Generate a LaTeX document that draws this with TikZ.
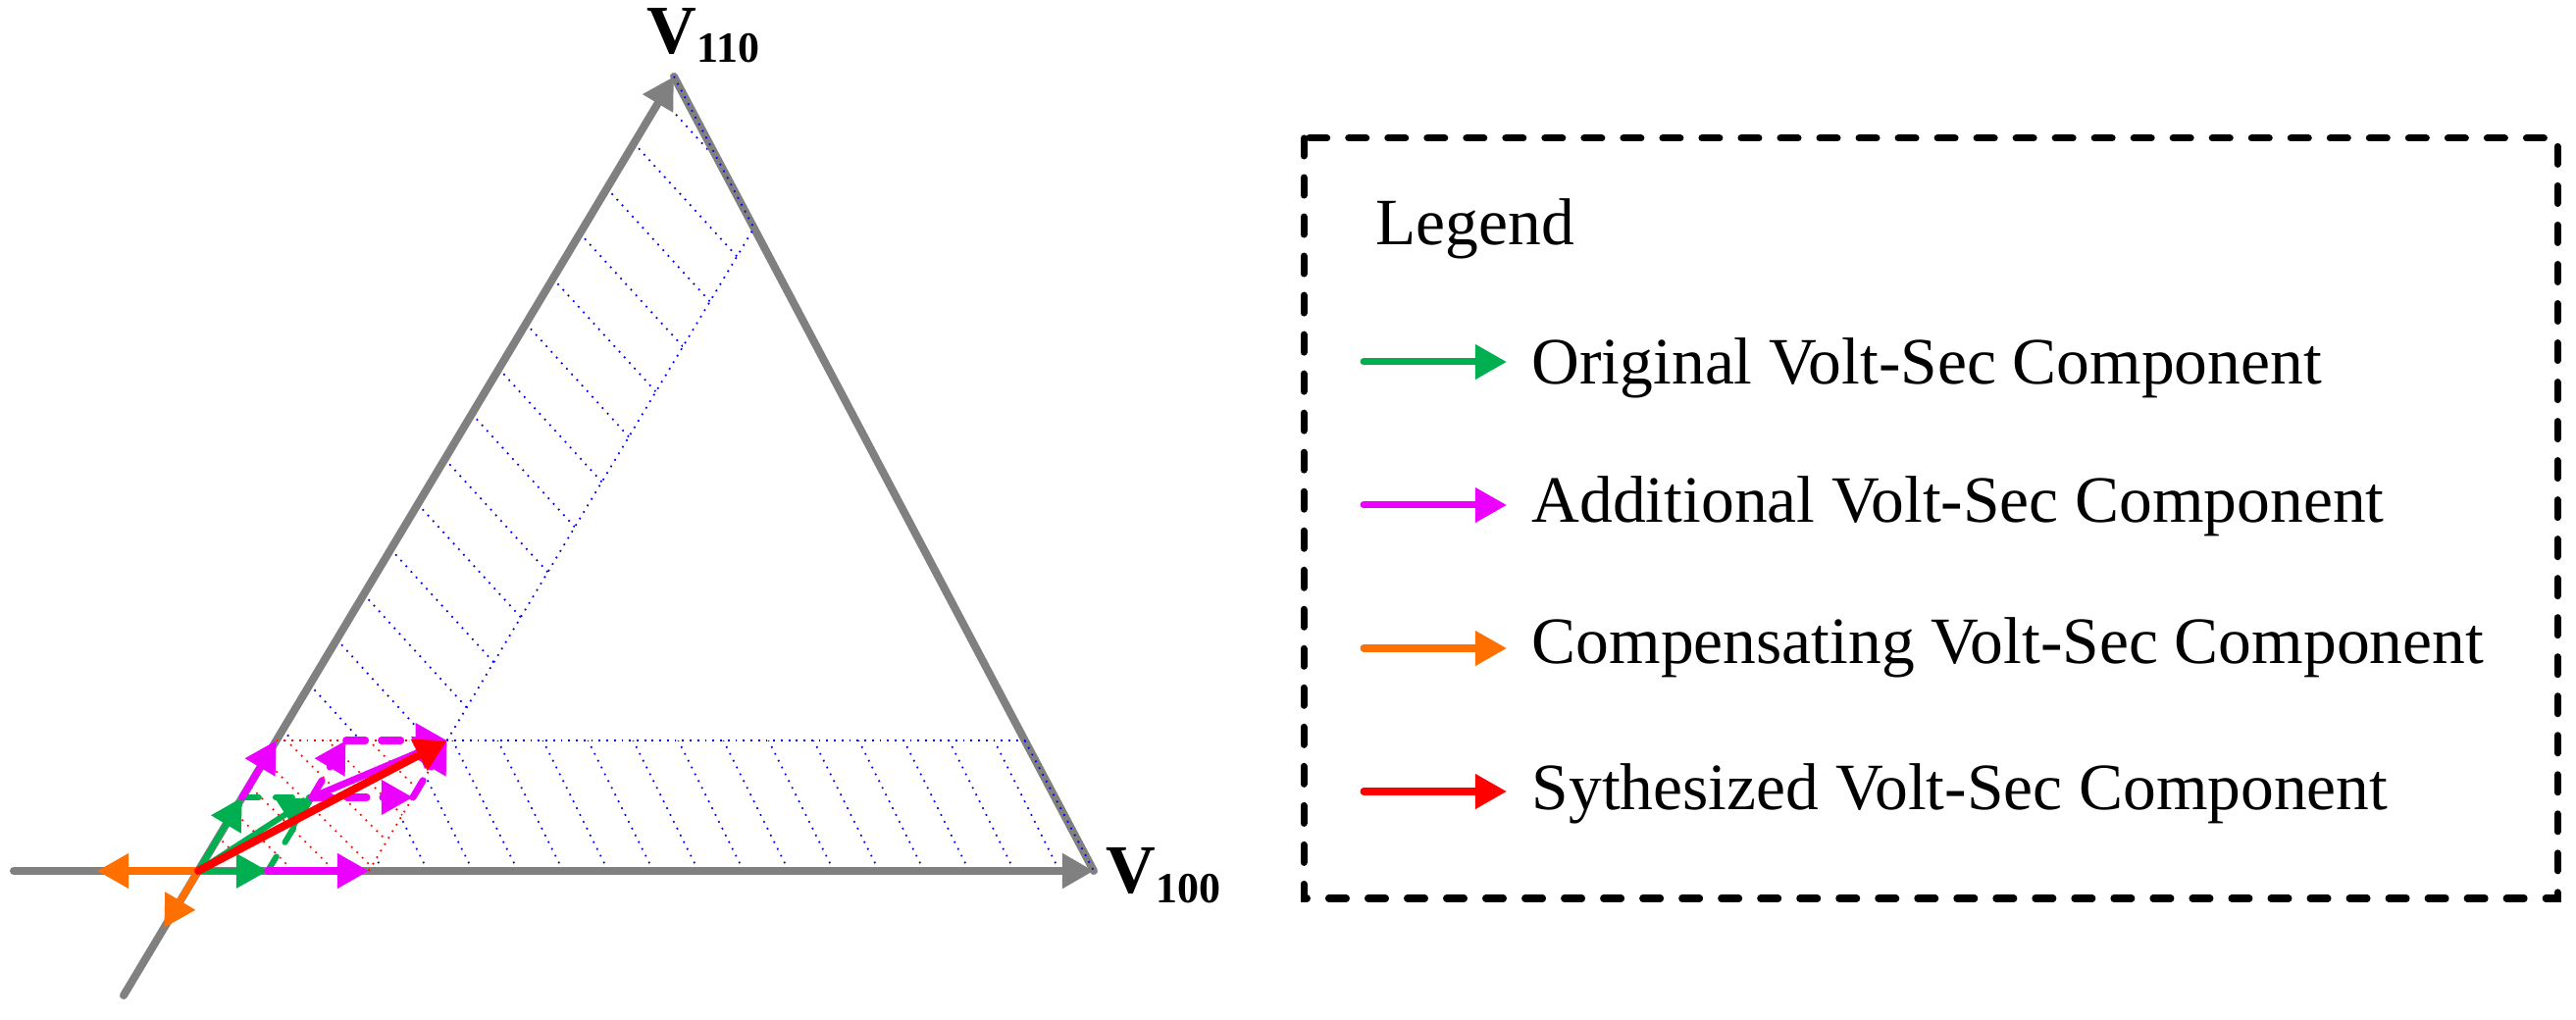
\documentclass[tikz,border=0pt]{standalone}
\usepackage{fontspec}
\setmainfont{Liberation Serif}
\usetikzlibrary{arrows.meta}
\definecolor{vgreen}{RGB}{0,176,80}
\definecolor{vmag}{RGB}{236,0,255}
\definecolor{vorange}{RGB}{255,112,0}
\definecolor{vred}{RGB}{255,0,0}
\definecolor{vgray}{RGB}{128,128,128}
\tikzset{
  vtip/.style={-{Triangle[length=0.32cm,width=0.34cm]}},
  grayline/.style={draw=vgray, line width=0.08cm, line cap=round},
  grayvec/.style={grayline, vtip},
  gvec/.style={draw=vgreen, line width=0.06cm, line cap=round, vtip},
  gdash/.style={draw=vgreen, line width=0.06cm, line cap=round, dash pattern=on 0.17cm off 0.17cm},
  mvec/.style={draw=vmag, line width=0.07cm, line cap=round, vtip},
  mdash/.style={mvec, dash pattern=on 0.2cm off 0.16cm},
  ovec/.style={draw=vorange, line width=0.07cm, line cap=round, vtip},
  rvec/.style={draw=vred, line width=0.08cm, line cap=round, vtip},
  bluedot/.style={draw=blue, line width=0.5pt, dash pattern=on 0.5pt off 1.7pt},
  reddot/.style={draw=red, line width=0.5pt, dash pattern=on 0.5pt off 1.7pt},
  legbox/.style={draw=black, line width=0.07cm, line cap=round, dash pattern=on 0.18cm off 0.22cm},
  legtext/.style={inner sep=0pt, anchor=base west, font=\fontsize{19.2}{23}\selectfont},
  vlabel/.style={inner sep=0pt, anchor=base west, font=\fontsize{20}{24}\selectfont\bfseries},
}
\begin{document}
\begin{tikzpicture}[x=0.01cm, y=-0.01cm]
\useasboundingbox (0,0) rectangle (2626,1040);
% key points
\coordinate (O) at (202,888);
\coordinate (A) at (687,78);
\coordinate (B) at (1115,888);
\coordinate (Lb) at (126,1015);
\coordinate (Xl) at (14,888);
\coordinate (G1) at (273,888);
\coordinate (M1) at (376,888);
\coordinate (G2) at (246.9,813);
\coordinate (G3) at (317.9,813);
\coordinate (L) at (281.6,755);
\coordinate (T) at (455.6,755);
\coordinate (Ga) at (420.9,813);
\coordinate (Gb) at (352.6,755);
\coordinate (Oa) at (99,888);
\coordinate (Ob) at (167.3,946);
\coordinate (P) at (768.6,232.5);
\coordinate (R) at (1044.7,755);

% hatched band along V110
\begin{scope}
  \clip (L) -- (T) -- (P) -- (A) -- cycle;
  \foreach \k in {0,...,16} {
    \draw[bluedot] ({202+(888-(100+46*\k))*0.59877-500},{100+46*\k-550}) -- ++(1000,1100);
  }
\end{scope}
% hatched band along V100
\begin{scope}
  \clip (M1) -- (B) -- (R) -- (T) -- cycle;
  \foreach \k in {0,...,17} {
    \draw[bluedot] ({390+46*\k-150},588) -- ++(200,400);
  }
\end{scope}
% red hatched parallelogram
\begin{scope}
  \clip (O) -- (M1) -- (T) -- (L) -- cycle;
  \foreach \k in {0,...,9} {
    \draw[reddot] ({215+42*\k-200},688) -- ++(260,260);
  }
\end{scope}

% sector triangle
\draw[grayline] (A) -- (B);
\draw[grayvec] (Xl) -- (B);
\draw[grayvec] (Lb) -- (A);

% band outlines
\draw[bluedot] (T) -- (P);
\draw[bluedot] (T) -- (R);
\draw[bluedot] (A) -- (P);
\draw[bluedot] (R) -- (B);
\draw[reddot] (L) -- (T);
\draw[reddot] (M1) -- (T);

% original components
\draw[gdash] (G2) -- (G3);
\draw[gdash] (G1) -- (G3);
\draw[gvec] (O) -- (G1);
\draw[gvec] (O) -- (G2);
\draw[gvec] (O) -- (G3);

% additional components
\draw[mvec] (G1) -- (M1);
\draw[mvec] (G2) -- (L);
\draw[mdash] (G3) -- (Ga);
\draw[mdash] (Ga) -- (T);
\draw[mdash] (G3) -- (Gb);
\draw[mdash] (Gb) -- (T);
\draw[mvec] (G3) -- (T);

% compensating components
\draw[ovec] (O) -- (Oa);
\draw[ovec] (O) -- (Ob);

% synthesized
\draw[rvec] (O) -- (T);

% vertex labels
\node[vlabel] (v110) at (659,55) {V\raisebox{-0.09cm}{\fontsize{12.5}{14}\selectfont 110}};
\node[vlabel] (v100) at (1127,910) {V\raisebox{-0.10cm}{\fontsize{12.5}{14}\selectfont 100}};

% legend
\draw[legbox] (1329,141) rectangle (2607,916);
\node[legtext] (legtitle) at (1402,250) {Legend};
\coordinate (la1) at (1390,369);  \coordinate (lb1) at (1536,369);
\coordinate (la2) at (1390,515);  \coordinate (lb2) at (1536,515);
\coordinate (la3) at (1390,661);  \coordinate (lb3) at (1536,661);
\coordinate (la4) at (1390,807);  \coordinate (lb4) at (1536,807);
\draw[gvec, line width=0.07cm] (la1) -- (lb1);
\draw[mvec] (la2) -- (lb2);
\draw[ovec] (la3) -- (lb3);
\draw[rvec, line width=0.07cm] (la4) -- (lb4);
\node[legtext] (lt1) at (1561,392) {Original Volt-Sec Component};
\node[legtext] (lt2) at (1561,533) {Additional Volt-Sec Component};
\node[legtext] (lt3) at (1561,676) {Compensating Volt-Sec Component};
\node[legtext] (lt4) at (1561,826) {Sythesized Volt-Sec Component};
\end{tikzpicture}
\end{document}
